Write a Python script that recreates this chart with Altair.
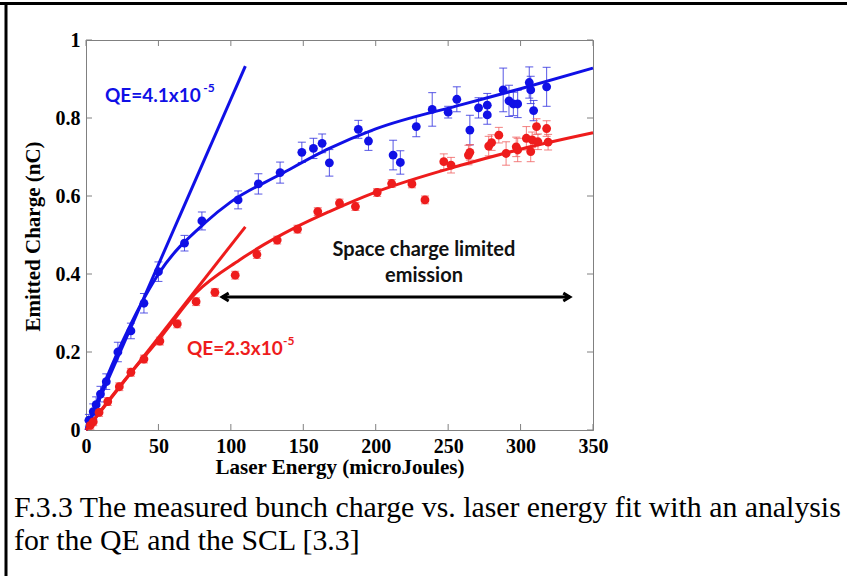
import altair as alt
import pandas as pd

# ---------------- data ----------------
blue_x = [2, 5, 7, 10, 14, 22, 31, 40, 50, 68, 80, 105, 119, 134, 149, 157, 163, 168, 188, 195,
          212, 217, 228, 239, 250, 256, 265, 271, 277, 277, 288, 292, 295, 298, 306, 307, 309, 318]
blue_y = [0.025, 0.047, 0.065, 0.092, 0.124, 0.200, 0.254, 0.325, 0.406, 0.479, 0.536, 0.590, 0.631,
          0.660, 0.712, 0.722, 0.735, 0.685, 0.771, 0.741, 0.705, 0.686, 0.778, 0.822, 0.815, 0.848,
          0.769, 0.826, 0.833, 0.808, 0.872, 0.844, 0.836, 0.836, 0.891, 0.872, 0.819, 0.880]
blue_err = [0.015, 0.02, 0.02, 0.02, 0.02, 0.025, 0.02, 0.025, 0.025, 0.02, 0.023, 0.023, 0.026,
            0.027, 0.026, 0.026, 0.024, 0.034, 0.023, 0.024, 0.038, 0.03, 0.026, 0.043, 0.015, 0.032,
            0.038, 0.026, 0.03, 0.024, 0.056, 0.04, 0.03, 0.035, 0.04, 0.035, 0.026, 0.05]

red_x = [3, 5, 9, 15, 23, 31, 40, 51, 63, 76, 89, 103, 118, 132, 146, 160, 175, 186, 201, 211,
         225, 234, 247, 252, 264, 265, 278, 280, 285, 290, 297, 298, 304, 308, 307, 311, 312, 318, 319]
red_y = [0.012, 0.021, 0.045, 0.073, 0.111, 0.148, 0.182, 0.228, 0.272, 0.329, 0.353, 0.397, 0.450,
         0.487, 0.515, 0.560, 0.582, 0.573, 0.609, 0.632, 0.631, 0.590, 0.688, 0.679, 0.705, 0.712,
         0.728, 0.737, 0.756, 0.709, 0.726, 0.718, 0.748, 0.744, 0.714, 0.778, 0.739, 0.773, 0.738]
red_err = [0.01] * 22 + [0.02, 0.02, 0.025, 0.02, 0.025, 0.02, 0.02, 0.03, 0.025, 0.03, 0.03,
                         0.02, 0.026, 0.02, 0.02, 0.02, 0.02]

blue_fit_x = [0, 10, 25, 50, 83, 100, 134, 168, 200, 260, 300, 350]
blue_fit_y = [0, 0.095, 0.225, 0.40, 0.534, 0.585, 0.655, 0.722, 0.772, 0.835, 0.875, 0.928]
red_fit_x = [0, 25, 51, 76, 106, 145, 168, 200, 260, 300, 350]
red_fit_y = [0, 0.12, 0.235, 0.352, 0.436, 0.52, 0.56, 0.61, 0.68, 0.72, 0.762]

qe_blue_x = [0, 110]
qe_blue_y = [0, 0.933]
qe_red_x = [0, 110]
qe_red_y = [0, 0.521]

x_ticks = [0, 50, 100, 150, 200, 250, 300, 350]
y_ticks = [0, 0.2, 0.4, 0.6, 0.8, 1.0]

BLUE = "#1010e6"
RED = "#ee1c1c"
W, H = 507, 390
TOTAL_W, TOTAL_H = 847, 576

xs = alt.Scale(domain=[0, 350], nice=False, zero=False)
ys = alt.Scale(domain=[0, 1], nice=False, zero=False)

blue = pd.DataFrame({"x": blue_x, "y": blue_y, "e": blue_err})
blue["lo"] = blue["y"] - blue["e"]
blue["hi"] = blue["y"] + blue["e"]
red = pd.DataFrame({"x": red_x, "y": red_y, "e": red_err})
red["lo"] = red["y"] - red["e"]
red["hi"] = red["y"] + red["e"]

X = alt.X("x:Q", scale=xs, title="Laser Energy (microJoules)",
          axis=alt.Axis(values=x_ticks, ticks=False, grid=False, domainColor="#808080",
                        labelFont="Liberation Serif", labelFontWeight="bold", labelFontSize=20,
                        labelColor="black", labelPadding=6, labelFlush=False,
                        titleFont="Liberation Serif", titleFontWeight="bold", titleFontSize=21,
                        titleColor="black", titleX=W / 2, titleY=37, titleBaseline="middle"))
Y = alt.Y("y:Q", scale=ys, title="Emitted Charge (nC)",
          axis=alt.Axis(values=y_ticks, ticks=False, grid=False, domainColor="#808080", format="~g",
                        labelFont="Liberation Serif", labelFontWeight="bold", labelFontSize=20,
                        labelColor="black", labelPadding=6, labelFlush=False,
                        titleFont="Liberation Serif", titleFontWeight="bold", titleFontSize=21,
                        titleColor="black", titleX=-53, titleY=H / 2 + 1, titleAngle=-90,
                        titleAlign="center", titleBaseline="middle"))

def errbars(df, color, opacity):
    base = alt.Chart(df)
    bars = base.mark_rule(color=color, strokeWidth=1, opacity=opacity).encode(
        x=alt.X("x:Q", scale=xs), y=alt.Y("lo:Q", scale=ys), y2="hi:Q")
    cap_lo = base.mark_tick(color=color, orient="horizontal", size=8, thickness=1, opacity=opacity).encode(
        x=alt.X("x:Q", scale=xs), y=alt.Y("lo:Q", scale=ys))
    cap_hi = base.mark_tick(color=color, orient="horizontal", size=8, thickness=1, opacity=opacity).encode(
        x=alt.X("x:Q", scale=xs), y=alt.Y("hi:Q", scale=ys))
    return bars + cap_lo + cap_hi

axes_base = alt.Chart(blue).mark_point(opacity=0).encode(x=X, y=Y)

# inward ticks (MATLAB style box)
xt = pd.DataFrame({"x": x_ticks})
yt = pd.DataFrame({"y": y_ticks})
tick_col = "#808080"
xt_bot = alt.Chart(xt).mark_rule(color=tick_col).encode(x=alt.X("x:Q", scale=xs), y=alt.value(H), y2=alt.value(H - 6))
xt_top = alt.Chart(xt).mark_rule(color=tick_col).encode(x=alt.X("x:Q", scale=xs), y=alt.value(0), y2=alt.value(6))
yt_l = alt.Chart(yt).mark_rule(color=tick_col).encode(y=alt.Y("y:Q", scale=ys), x=alt.value(0), x2=alt.value(6))
yt_r = alt.Chart(yt).mark_rule(color=tick_col).encode(y=alt.Y("y:Q", scale=ys), x=alt.value(W), x2=alt.value(W - 6))

def line(xv, yv, color, interp="monotone", width=3):
    df = pd.DataFrame({"x": xv, "y": yv})
    return alt.Chart(df).mark_line(color=color, strokeWidth=width, interpolate=interp).encode(
        x=alt.X("x:Q", scale=xs), y=alt.Y("y:Q", scale=ys))

blue_fit = line(blue_fit_x, blue_fit_y, BLUE)
red_fit = line(red_fit_x, red_fit_y, RED)
blue_qe = line(qe_blue_x, qe_blue_y, BLUE, "linear")
red_qe = line(qe_red_x, qe_red_y, RED, "linear")

blue_pts = alt.Chart(blue).mark_circle(color=BLUE, size=78, opacity=1).encode(
    x=alt.X("x:Q", scale=xs), y=alt.Y("y:Q", scale=ys))
red_pts = alt.Chart(red).mark_circle(color=RED, size=78, opacity=1).encode(
    x=alt.X("x:Q", scale=xs), y=alt.Y("y:Q", scale=ys))

# annotations
ann_font = "Lato"
txt = pd.DataFrame({
    "x": [13.1, 69.7, 233.3, 233.3],
    "y": [0.856, 0.208, 0.4615, 0.395],
    "t": ["QE=4.1x10", "QE=2.3x10", "Space charge limited", "emission"],
    "c": [BLUE, RED, "black", "black"],
})
qe_txt = alt.Chart(txt.iloc[:2]).mark_text(font=ann_font, fontSize=19, fontWeight="bold",
                                           align="left", baseline="middle").encode(
    x=alt.X("x:Q", scale=xs), y=alt.Y("y:Q", scale=ys), text="t:N",
    color=alt.Color("c:N", scale=None))
scl_txt = alt.Chart(txt.iloc[2:]).mark_text(font=ann_font, fontSize=20, fontWeight="bold",
                                            align="center", baseline="middle", color="#111111").encode(
    x=alt.X("x:Q", scale=xs), y=alt.Y("y:Q", scale=ys), text="t:N")
sup = pd.DataFrame({"x": [81.0, 136.0], "y": [0.877, 0.229], "t": ["-5", "-5"], "c": [BLUE, RED]})
sup_txt = alt.Chart(sup).mark_text(font=ann_font, fontSize=12, fontWeight="bold",
                                   align="left", baseline="middle").encode(
    x=alt.X("x:Q", scale=xs), y=alt.Y("y:Q", scale=ys), text="t:N",
    color=alt.Color("c:N", scale=None))

arrow_x = [94, 334]
arrow_y = [0.341, 0.341]
arr = pd.DataFrame({"x": [arrow_x[0]], "x2": [arrow_x[1]], "y": [arrow_y[0]]})
arrow_line = alt.Chart(arr).mark_rule(color="black", strokeWidth=3).encode(
    x=alt.X("x:Q", scale=xs), x2="x2:Q", y=alt.Y("y:Q", scale=ys))
heads = pd.DataFrame({"x": arrow_x, "y": arrow_y})
head_r = alt.Chart(heads.iloc[1:]).mark_point(
    shape="M -1 -0.6 L 0 0 L -1 0.6", filled=False, color="black", strokeWidth=3, size=170,
    opacity=1).encode(x=alt.X("x:Q", scale=xs), y=alt.Y("y:Q", scale=ys))
head_l = alt.Chart(heads.iloc[:1]).mark_point(
    shape="M 1 -0.6 L 0 0 L 1 0.6", filled=False, color="black", strokeWidth=3, size=170,
    opacity=1).encode(x=alt.X("x:Q", scale=xs), y=alt.Y("y:Q", scale=ys))

# page frame and caption
one = pd.DataFrame({"k": [0]})
frame_top = alt.Chart(one).mark_rule(color="black", strokeWidth=3).encode(
    x=alt.value(-86), x2=alt.value(TOTAL_W - 86), y=alt.value(-36.5))
frame_left = alt.Chart(one).mark_rule(color="black", strokeWidth=3).encode(
    x=alt.value(-80), y=alt.value(-38), y2=alt.value(TOTAL_H - 40))
cap1 = alt.Chart(one).mark_text(
    text="F.3.3 The measured bunch charge vs. laser energy fit with an analysis",
    font="Liberation Serif", fontSize=29.8, align="left", baseline="middle", color="black").encode(
    x=alt.value(-72), y=alt.value(468))
cap2 = alt.Chart(one).mark_text(
    text="for the QE and the SCL [3.3]",
    font="Liberation Serif", fontSize=29.8, align="left", baseline="middle", color="black").encode(
    x=alt.value(-72), y=alt.value(501))

chart = alt.layer(
    axes_base, xt_bot, xt_top, yt_l, yt_r,
    errbars(blue, "#3a3ae0", 0.85), errbars(red, "#f06060", 0.8),
    blue_qe, red_qe, blue_fit, red_fit, blue_pts, red_pts,
    qe_txt, sup_txt, scl_txt, arrow_line, head_l, head_r,
    frame_top, frame_left, cap1, cap2,
).properties(
    width=W, height=H,
    padding={"left": 86, "top": 40, "right": TOTAL_W - 86 - W, "bottom": TOTAL_H - 40 - H},
    autosize=alt.AutoSizeParams(type="none"),
    background="white",
).configure_view(stroke="#808080", strokeWidth=1)

chart.save("out.html", embed_options={"renderer": "svg", "actions": False})
